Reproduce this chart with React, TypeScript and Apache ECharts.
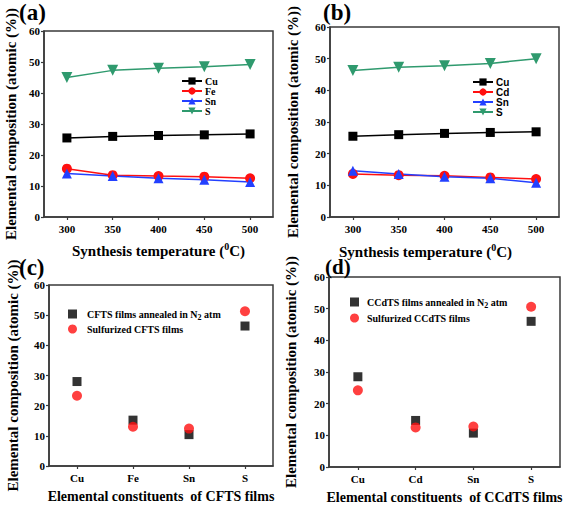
import React, { useEffect, useRef } from "react";
import * as echarts from "echarts";

const temps = ["300", "350", "400", "450", "500"];
const cuA = [25.5, 26.0, 26.3, 26.5, 26.8];
const feA = [15.6, 13.5, 13.2, 13.0, 12.5];
const snA = [14.0, 13.2, 12.5, 12.0, 11.3];
const sA = [45.0, 47.3, 48.0, 48.5, 49.2];

const cuB = [25.5, 26.0, 26.4, 26.7, 26.9];
const cdB = [13.6, 13.2, 13.0, 12.5, 12.0];
const snB = [14.6, 13.6, 12.7, 12.2, 10.8];
const sB = [46.3, 47.3, 47.8, 48.5, 50.0];

const elemC = ["Cu", "Fe", "Sn", "S"];
const n2C = [28.0, 15.2, 10.4, 46.4];
const sulfC = [23.3, 13.0, 12.4, 51.3];

const elemD = ["Cu", "Cd", "Sn", "S"];
const n2D = [28.5, 14.7, 10.7, 46.0];
const sulfD = [24.2, 12.5, 12.8, 50.6];

const yMin = 0;
const yMax = 60;
const yStep = 10;

const SERIF = "'Liberation Serif', 'Times New Roman', serif";
const SANS = "'Liberation Sans', Arial, sans-serif";
const AXIS_COLOR = "#3a3a3a";
const GREEN = "#2f9a6e";
const BLUE = "#2340ff";
const RED = "#ff1010";
const DOWN_TRI = "path://M0,0L10,0L5,9Z";

const yName = "Elemental composition (atomic (%))";

function makeY(gridIndex: number, nameGap: number) {
  return {
    type: "value",
    gridIndex,
    min: yMin,
    max: yMax,
    interval: yStep,
    name: yName,
    nameLocation: "middle",
    nameGap,
    nameTextStyle: { fontFamily: SERIF, fontWeight: "bold", fontSize: 15, color: "#000" },
    axisLine: { show: true, lineStyle: { color: AXIS_COLOR, width: 1.5 } },
    axisTick: { show: true, inside: false, length: 3, lineStyle: { color: AXIS_COLOR, width: 1.2 } },
    axisLabel: { fontFamily: SERIF, fontWeight: "bold", fontSize: 11, color: "#000", margin: 4 },
    splitLine: { show: false },
  };
}

function makeX(gridIndex: number, data: string[], name: string, nameGap: number, fontSize: number, padding?: number[]) {
  return {
    type: "category",
    gridIndex,
    data,
    boundaryGap: true,
    name,
    nameLocation: "middle",
    nameGap,
    nameTextStyle: {
      fontFamily: SERIF,
      fontWeight: "bold",
      fontSize,
      color: "#000",
      padding: padding || [0, 0, 0, 0],
      rich: {
        sup: { fontFamily: SERIF, fontWeight: "bold", fontSize: 10, color: "#000", padding: [0, 0, 9, 0] },
      },
    },
    axisLine: { show: true, lineStyle: { color: AXIS_COLOR, width: 1.5 } },
    axisTick: { show: true, alignWithLabel: true, length: 3, lineStyle: { color: AXIS_COLOR, width: 1.2 } },
    axisLabel: { fontFamily: SERIF, fontWeight: "bold", fontSize: 11, color: "#000", margin: 6 },
    splitLine: { show: false },
  };
}

function lineSeries(name: string, data: number[], idx: number, color: string, symbol: string, size: number) {
  return {
    type: "line",
    name,
    xAxisIndex: idx,
    yAxisIndex: idx,
    data,
    symbol,
    symbolSize: size,
    lineStyle: { color, width: 1.5 },
    itemStyle: { color },
    z: 3,
  };
}

function scatterSeries(name: string, data: number[], idx: number, color: string, symbol: string, size: number) {
  return {
    type: "scatter",
    name,
    xAxisIndex: idx,
    yAxisIndex: idx,
    data,
    symbol,
    symbolSize: size,
    itemStyle: { color },
  };
}

const n2Fmt = (n: string) => n.replace("N2", "N{sub|2}");
const subRich = { sub: { fontFamily: SERIF, fontWeight: "bold", fontSize: 8, color: "#000", padding: [6, 0, 0, 0] } };

export default function App() {
  const ref = useRef<HTMLDivElement>(null);
  useEffect(() => {
    if (!ref.current) return;
    const chart = echarts.init(ref.current, null, { renderer: "svg" });
    const gridBase = { show: true, borderColor: AXIS_COLOR, borderWidth: 1.5, backgroundColor: "transparent", containLabel: false };
    const option: any = {
      animation: false,
      backgroundColor: "#fff",
      grid: [
        { ...gridBase, left: 44, top: 31, width: 229, height: 186 },
        { ...gridBase, left: 330, top: 27, width: 229, height: 190 },
        { ...gridBase, left: 49, top: 285, width: 224, height: 181 },
        { ...gridBase, left: 329, top: 277, width: 231, height: 190 },
      ],
      xAxis: [
        makeX(0, temps, "Synthesis temperature ({sup|0}C)", 24, 15),
        makeX(1, temps, "Synthesis temperature ({sup|0}C)", 25, 15, [0, 38, 0, 0]),
        makeX(2, elemC, "Elemental constituents  of CFTS films", 23, 14),
        makeX(3, elemD, "Elemental constituents  of CCdTS films", 23, 14),
      ],
      yAxis: [makeY(0, 26), makeY(1, 30), makeY(2, 29), makeY(3, 31)],
      legend: [
        {
          data: ["Cu", "Fe", "Sn", "S"],
          orient: "vertical",
          left: 181,
          top: 76,
          padding: 0,
          itemWidth: 20,
          itemHeight: 9,
          itemGap: 0,
          selectedMode: false,
          textStyle: { fontFamily: SERIF, fontWeight: "bold", fontSize: 10, color: "#000", padding: [0, 0, 0, -2] },
        },
        {
          data: ["Cu", "Cd", "Sn", "S"],
          orient: "vertical",
          left: 472,
          top: 77,
          padding: 0,
          itemWidth: 20,
          itemHeight: 9,
          itemGap: 0,
          selectedMode: false,
          textStyle: { fontFamily: SANS, fontWeight: "bold", fontSize: 10, color: "#000", padding: [0, 0, 0, -2] },
        },
        {
          data: ["CFTS films annealed in N2 atm", "Sulfurized CFTS films"],
          orient: "vertical",
          left: 68,
          top: 309,
          padding: 0,
          itemWidth: 9,
          itemHeight: 9,
          itemGap: 3,
          selectedMode: false,
          formatter: n2Fmt,
          textStyle: { fontFamily: SERIF, fontWeight: "bold", fontSize: 10, color: "#000", padding: [0, 0, 0, 5], rich: subRich },
        },
        {
          data: ["CCdTS films annealed in N2 atm", "Sulfurized CCdTS films"],
          orient: "vertical",
          left: 350,
          top: 297,
          padding: 0,
          itemWidth: 9,
          itemHeight: 9,
          itemGap: 4,
          selectedMode: false,
          formatter: n2Fmt,
          textStyle: { fontFamily: SERIF, fontWeight: "bold", fontSize: 10, color: "#000", padding: [0, 0, 0, 3], rich: subRich },
        },
      ],
      series: [
        lineSeries("Cu", cuA, 0, "#000", "rect", 9),
        lineSeries("Fe", feA, 0, RED, "circle", 10),
        lineSeries("Sn", snA, 0, BLUE, "triangle", 10),
        lineSeries("S", sA, 0, GREEN, DOWN_TRI, 11),
        lineSeries("Cu", cuB, 1, "#000", "rect", 9),
        lineSeries("Cd", cdB, 1, RED, "circle", 10),
        lineSeries("Sn", snB, 1, BLUE, "triangle", 10),
        lineSeries("S", sB, 1, GREEN, DOWN_TRI, 11),
        scatterSeries("CFTS films annealed in N2 atm", n2C, 2, "#000", "rect", 9),
        scatterSeries("Sulfurized CFTS films", sulfC, 2, RED, "circle", 10),
        scatterSeries("CCdTS films annealed in N2 atm", n2D, 3, "#000", "rect", 9),
        scatterSeries("Sulfurized CCdTS films", sulfD, 3, RED, "circle", 10),
      ],
      graphic: [
        { type: "text", left: 19, top: 1, style: { text: "(a)", font: `bold 23px ${SERIF}`, fill: "#000" } },
        { type: "text", left: 323, top: 1, style: { text: "(b)", font: `bold 23px ${SERIF}`, fill: "#000" } },
        { type: "text", left: 19, top: 256, style: { text: "(c)", font: `bold 23px ${SERIF}`, fill: "#000" } },
        { type: "text", left: 325, top: 256, style: { text: "(d)", font: `bold 21px ${SERIF}`, fill: "#000" } },
      ],
    };
    chart.setOption(option);
    return () => chart.dispose();
  }, []);
  return (
    <div
      ref={ref}
      style={{ position: "fixed", left: 0, top: 0, width: 567, height: 509, background: "#fff" }}
    />
  );
}
